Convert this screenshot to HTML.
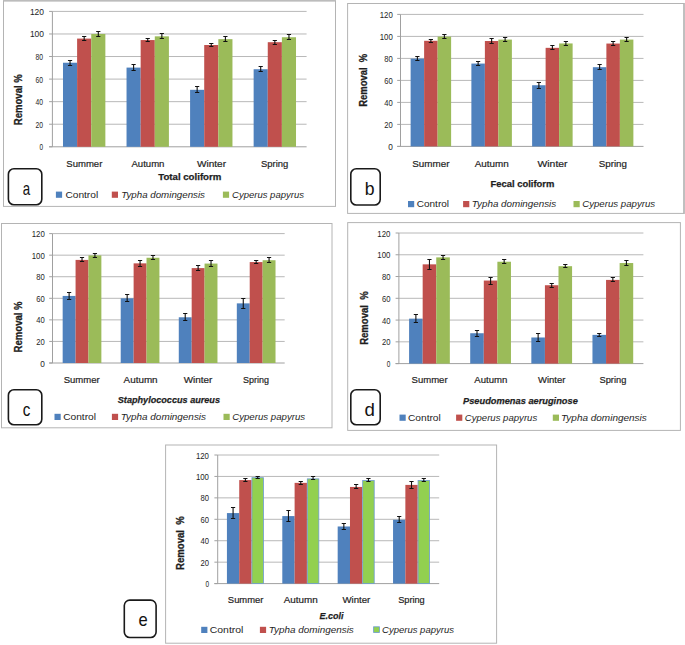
<!DOCTYPE html>
<html><head><meta charset="utf-8"><title>Removal charts</title><style>html,body{margin:0;padding:0;background:#fff;}svg{display:block;font-family:"Liberation Sans",sans-serif;}</style></head><body>
<svg width="685" height="645" viewBox="0 0 685 645">
<rect x="0" y="0" width="685" height="645" fill="#fff"/>
<rect x="3" y="0" width="333" height="1.6" fill="#cfcfcf"/>
<rect x="683" y="3" width="2" height="210.9" fill="#cbcbcb"/>
<rect x="3.5" y="0.8" width="332" height="205.6" fill="none" stroke="#b4b4b4" stroke-width="1"/>
<line x1="52.4" y1="124.23" x2="306.6" y2="124.23" stroke="#b8b8b8" stroke-width="1"/>
<line x1="52.4" y1="101.67" x2="306.6" y2="101.67" stroke="#b8b8b8" stroke-width="1"/>
<line x1="52.4" y1="79.1" x2="306.6" y2="79.1" stroke="#b8b8b8" stroke-width="1"/>
<line x1="52.4" y1="56.53" x2="306.6" y2="56.53" stroke="#b8b8b8" stroke-width="1"/>
<line x1="52.4" y1="33.97" x2="306.6" y2="33.97" stroke="#b8b8b8" stroke-width="1"/>
<line x1="52.4" y1="11.4" x2="306.6" y2="11.4" stroke="#b8b8b8" stroke-width="1"/>
<line x1="49.1" y1="146.8" x2="52.4" y2="146.8" stroke="#a0a0a0" stroke-width="1"/>
<line x1="49.1" y1="124.23" x2="52.4" y2="124.23" stroke="#a0a0a0" stroke-width="1"/>
<line x1="49.1" y1="101.67" x2="52.4" y2="101.67" stroke="#a0a0a0" stroke-width="1"/>
<line x1="49.1" y1="79.1" x2="52.4" y2="79.1" stroke="#a0a0a0" stroke-width="1"/>
<line x1="49.1" y1="56.53" x2="52.4" y2="56.53" stroke="#a0a0a0" stroke-width="1"/>
<line x1="49.1" y1="33.97" x2="52.4" y2="33.97" stroke="#a0a0a0" stroke-width="1"/>
<line x1="49.1" y1="11.4" x2="52.4" y2="11.4" stroke="#a0a0a0" stroke-width="1"/>
<line x1="52.4" y1="11.4" x2="52.4" y2="146.8" stroke="#a0a0a0" stroke-width="1"/>
<line x1="49.1" y1="146.8" x2="306.6" y2="146.8" stroke="#a0a0a0" stroke-width="1"/>
<rect x="62.99" y="62.74" width="14.12" height="84.06" fill="#4F81BD"/>
<rect x="77.11" y="38.59" width="14.12" height="108.21" fill="#C0504D"/>
<rect x="91.24" y="33.97" width="14.12" height="112.83" fill="#9BBB59"/>
<path d="M70.05 60.5V65.5" stroke="#111" stroke-width="1.1" fill="none"/>
<path d="M67.95 60.5H72.15M67.95 65.5H72.15" stroke="#111" stroke-width="1" fill="none"/>
<path d="M84.18 36.5V40.5" stroke="#111" stroke-width="1.1" fill="none"/>
<path d="M82.08 36.5H86.28M82.08 40.5H86.28" stroke="#111" stroke-width="1" fill="none"/>
<path d="M98.3 31.5V36.5" stroke="#111" stroke-width="1.1" fill="none"/>
<path d="M96.2 31.5H100.4M96.2 36.5H100.4" stroke="#111" stroke-width="1" fill="none"/>
<rect x="126.54" y="67.59" width="14.12" height="79.21" fill="#4F81BD"/>
<rect x="140.66" y="40.06" width="14.12" height="106.74" fill="#C0504D"/>
<rect x="154.79" y="36.34" width="14.12" height="110.46" fill="#9BBB59"/>
<path d="M133.6 64.5V70.5" stroke="#111" stroke-width="1.1" fill="none"/>
<path d="M131.5 64.5H135.7M131.5 70.5H135.7" stroke="#111" stroke-width="1" fill="none"/>
<path d="M147.72 38.5V41.5" stroke="#111" stroke-width="1.1" fill="none"/>
<path d="M145.62 38.5H149.82M145.62 41.5H149.82" stroke="#111" stroke-width="1" fill="none"/>
<path d="M161.85 33.5V38.5" stroke="#111" stroke-width="1.1" fill="none"/>
<path d="M159.75 33.5H163.95M159.75 38.5H163.95" stroke="#111" stroke-width="1" fill="none"/>
<rect x="190.09" y="89.82" width="14.12" height="56.98" fill="#4F81BD"/>
<rect x="204.21" y="45.02" width="14.12" height="101.78" fill="#C0504D"/>
<rect x="218.34" y="39.16" width="14.12" height="107.64" fill="#9BBB59"/>
<path d="M197.15 86.5V92.5" stroke="#111" stroke-width="1.1" fill="none"/>
<path d="M195.05 86.5H199.25M195.05 92.5H199.25" stroke="#111" stroke-width="1" fill="none"/>
<path d="M211.28 43.5V46.5" stroke="#111" stroke-width="1.1" fill="none"/>
<path d="M209.18 43.5H213.38M209.18 46.5H213.38" stroke="#111" stroke-width="1" fill="none"/>
<path d="M225.4 36.5V41.5" stroke="#111" stroke-width="1.1" fill="none"/>
<path d="M223.3 36.5H227.5M223.3 41.5H227.5" stroke="#111" stroke-width="1" fill="none"/>
<rect x="253.64" y="69.23" width="14.12" height="77.57" fill="#4F81BD"/>
<rect x="267.76" y="42.2" width="14.12" height="104.6" fill="#C0504D"/>
<rect x="281.89" y="37.24" width="14.12" height="109.56" fill="#9BBB59"/>
<path d="M260.7 66.5V71.5" stroke="#111" stroke-width="1.1" fill="none"/>
<path d="M258.6 66.5H262.8M258.6 71.5H262.8" stroke="#111" stroke-width="1" fill="none"/>
<path d="M274.83 40.5V44.5" stroke="#111" stroke-width="1.1" fill="none"/>
<path d="M272.73 40.5H276.93M272.73 44.5H276.93" stroke="#111" stroke-width="1" fill="none"/>
<path d="M288.95 34.5V39.5" stroke="#111" stroke-width="1.1" fill="none"/>
<path d="M286.85 34.5H291.05M286.85 39.5H291.05" stroke="#111" stroke-width="1" fill="none"/>
<rect x="55.9" y="191.6" width="6.2" height="6.2" fill="#4F81BD"/>
<rect x="111.8" y="191.6" width="6.2" height="6.2" fill="#C0504D"/>
<rect x="222.9" y="191.6" width="6.2" height="6.2" fill="#9BBB59"/>
<rect x="8.4" y="168.7" width="33.4" height="36.1" rx="5.5" ry="5.5" fill="#fff" stroke="#1a1a1a" stroke-width="1.6"/>
<rect x="347.6" y="3.5" width="336.4" height="209.9" fill="none" stroke="#b4b4b4" stroke-width="1"/>
<line x1="400.5" y1="124.4" x2="643.5" y2="124.4" stroke="#b8b8b8" stroke-width="1"/>
<line x1="400.5" y1="102.4" x2="643.5" y2="102.4" stroke="#b8b8b8" stroke-width="1"/>
<line x1="400.5" y1="80.4" x2="643.5" y2="80.4" stroke="#b8b8b8" stroke-width="1"/>
<line x1="400.5" y1="58.4" x2="643.5" y2="58.4" stroke="#b8b8b8" stroke-width="1"/>
<line x1="400.5" y1="36.4" x2="643.5" y2="36.4" stroke="#b8b8b8" stroke-width="1"/>
<line x1="400.5" y1="14.4" x2="643.5" y2="14.4" stroke="#b8b8b8" stroke-width="1"/>
<line x1="397.2" y1="146.4" x2="400.5" y2="146.4" stroke="#a0a0a0" stroke-width="1"/>
<line x1="397.2" y1="124.4" x2="400.5" y2="124.4" stroke="#a0a0a0" stroke-width="1"/>
<line x1="397.2" y1="102.4" x2="400.5" y2="102.4" stroke="#a0a0a0" stroke-width="1"/>
<line x1="397.2" y1="80.4" x2="400.5" y2="80.4" stroke="#a0a0a0" stroke-width="1"/>
<line x1="397.2" y1="58.4" x2="400.5" y2="58.4" stroke="#a0a0a0" stroke-width="1"/>
<line x1="397.2" y1="36.4" x2="400.5" y2="36.4" stroke="#a0a0a0" stroke-width="1"/>
<line x1="397.2" y1="14.4" x2="400.5" y2="14.4" stroke="#a0a0a0" stroke-width="1"/>
<line x1="400.5" y1="14.4" x2="400.5" y2="146.4" stroke="#a0a0a0" stroke-width="1"/>
<line x1="397.2" y1="146.4" x2="643.5" y2="146.4" stroke="#a0a0a0" stroke-width="1"/>
<rect x="410.62" y="58.62" width="13.5" height="87.78" fill="#4F81BD"/>
<rect x="424.12" y="40.8" width="13.5" height="105.6" fill="#C0504D"/>
<rect x="437.62" y="36.62" width="13.5" height="109.78" fill="#9BBB59"/>
<path d="M417.38 56.5V60.5" stroke="#111" stroke-width="1.1" fill="none"/>
<path d="M415.27 56.5H419.48M415.27 60.5H419.48" stroke="#111" stroke-width="1" fill="none"/>
<path d="M430.88 39.5V42.5" stroke="#111" stroke-width="1.1" fill="none"/>
<path d="M428.77 39.5H432.98M428.77 42.5H432.98" stroke="#111" stroke-width="1" fill="none"/>
<path d="M444.38 34.5V38.5" stroke="#111" stroke-width="1.1" fill="none"/>
<path d="M442.27 34.5H446.48M442.27 38.5H446.48" stroke="#111" stroke-width="1" fill="none"/>
<rect x="471.38" y="63.57" width="13.5" height="82.83" fill="#4F81BD"/>
<rect x="484.88" y="41.02" width="13.5" height="105.38" fill="#C0504D"/>
<rect x="498.38" y="39.59" width="13.5" height="106.81" fill="#9BBB59"/>
<path d="M478.12 61.5V65.5" stroke="#111" stroke-width="1.1" fill="none"/>
<path d="M476.02 61.5H480.23M476.02 65.5H480.23" stroke="#111" stroke-width="1" fill="none"/>
<path d="M491.62 38.5V43.5" stroke="#111" stroke-width="1.1" fill="none"/>
<path d="M489.52 38.5H493.73M489.52 43.5H493.73" stroke="#111" stroke-width="1" fill="none"/>
<path d="M505.12 37.5V41.5" stroke="#111" stroke-width="1.1" fill="none"/>
<path d="M503.02 37.5H507.23M503.02 41.5H507.23" stroke="#111" stroke-width="1" fill="none"/>
<rect x="532.12" y="85.24" width="13.5" height="61.16" fill="#4F81BD"/>
<rect x="545.62" y="47.84" width="13.5" height="98.56" fill="#C0504D"/>
<rect x="559.12" y="43.44" width="13.5" height="102.96" fill="#9BBB59"/>
<path d="M538.88 82.5V88.5" stroke="#111" stroke-width="1.1" fill="none"/>
<path d="M536.77 82.5H540.98M536.77 88.5H540.98" stroke="#111" stroke-width="1" fill="none"/>
<path d="M552.38 45.5V49.5" stroke="#111" stroke-width="1.1" fill="none"/>
<path d="M550.27 45.5H554.48M550.27 49.5H554.48" stroke="#111" stroke-width="1" fill="none"/>
<path d="M565.88 41.5V45.5" stroke="#111" stroke-width="1.1" fill="none"/>
<path d="M563.77 41.5H567.98M563.77 45.5H567.98" stroke="#111" stroke-width="1" fill="none"/>
<rect x="592.88" y="67.2" width="13.5" height="79.2" fill="#4F81BD"/>
<rect x="606.38" y="43.55" width="13.5" height="102.85" fill="#C0504D"/>
<rect x="619.88" y="39.59" width="13.5" height="106.81" fill="#9BBB59"/>
<path d="M599.62 64.5V69.5" stroke="#111" stroke-width="1.1" fill="none"/>
<path d="M597.52 64.5H601.73M597.52 69.5H601.73" stroke="#111" stroke-width="1" fill="none"/>
<path d="M613.12 41.5V45.5" stroke="#111" stroke-width="1.1" fill="none"/>
<path d="M611.02 41.5H615.23M611.02 45.5H615.23" stroke="#111" stroke-width="1" fill="none"/>
<path d="M626.62 37.5V41.5" stroke="#111" stroke-width="1.1" fill="none"/>
<path d="M624.52 37.5H628.73M624.52 41.5H628.73" stroke="#111" stroke-width="1" fill="none"/>
<rect x="408" y="201" width="6.2" height="6.2" fill="#4F81BD"/>
<rect x="463.1" y="201" width="6.2" height="6.2" fill="#C0504D"/>
<rect x="573.5" y="201" width="6.2" height="6.2" fill="#9BBB59"/>
<rect x="350.8" y="168.8" width="29.4" height="36.2" rx="5.5" ry="5.5" fill="#fff" stroke="#1a1a1a" stroke-width="1.6"/>
<rect x="1.5" y="223.5" width="330.5" height="204.3" fill="none" stroke="#b4b4b4" stroke-width="1"/>
<line x1="52.5" y1="341.43" x2="284.7" y2="341.43" stroke="#b8b8b8" stroke-width="1"/>
<line x1="52.5" y1="319.87" x2="284.7" y2="319.87" stroke="#b8b8b8" stroke-width="1"/>
<line x1="52.5" y1="298.3" x2="284.7" y2="298.3" stroke="#b8b8b8" stroke-width="1"/>
<line x1="52.5" y1="276.73" x2="284.7" y2="276.73" stroke="#b8b8b8" stroke-width="1"/>
<line x1="52.5" y1="255.17" x2="284.7" y2="255.17" stroke="#b8b8b8" stroke-width="1"/>
<line x1="52.5" y1="233.6" x2="284.7" y2="233.6" stroke="#b8b8b8" stroke-width="1"/>
<line x1="49.2" y1="363" x2="52.5" y2="363" stroke="#a0a0a0" stroke-width="1"/>
<line x1="49.2" y1="341.43" x2="52.5" y2="341.43" stroke="#a0a0a0" stroke-width="1"/>
<line x1="49.2" y1="319.87" x2="52.5" y2="319.87" stroke="#a0a0a0" stroke-width="1"/>
<line x1="49.2" y1="298.3" x2="52.5" y2="298.3" stroke="#a0a0a0" stroke-width="1"/>
<line x1="49.2" y1="276.73" x2="52.5" y2="276.73" stroke="#a0a0a0" stroke-width="1"/>
<line x1="49.2" y1="255.17" x2="52.5" y2="255.17" stroke="#a0a0a0" stroke-width="1"/>
<line x1="49.2" y1="233.6" x2="52.5" y2="233.6" stroke="#a0a0a0" stroke-width="1"/>
<line x1="52.5" y1="233.6" x2="52.5" y2="363" stroke="#a0a0a0" stroke-width="1"/>
<line x1="49.2" y1="363" x2="284.7" y2="363" stroke="#a0a0a0" stroke-width="1"/>
<rect x="62.67" y="295.93" width="12.9" height="67.07" fill="#4F81BD"/>
<rect x="75.57" y="259.91" width="12.9" height="103.09" fill="#C0504D"/>
<rect x="88.47" y="255.38" width="12.9" height="107.62" fill="#9BBB59"/>
<path d="M69.12 292.5V299.5" stroke="#111" stroke-width="1.1" fill="none"/>
<path d="M67.03 292.5H71.22M67.03 299.5H71.22" stroke="#111" stroke-width="1" fill="none"/>
<path d="M82.02 257.5V261.5" stroke="#111" stroke-width="1.1" fill="none"/>
<path d="M79.92 257.5H84.12M79.92 261.5H84.12" stroke="#111" stroke-width="1" fill="none"/>
<path d="M94.92 253.5V257.5" stroke="#111" stroke-width="1.1" fill="none"/>
<path d="M92.83 253.5H97.02M92.83 257.5H97.02" stroke="#111" stroke-width="1" fill="none"/>
<rect x="120.72" y="298.3" width="12.9" height="64.7" fill="#4F81BD"/>
<rect x="133.62" y="263.36" width="12.9" height="99.64" fill="#C0504D"/>
<rect x="146.52" y="257.75" width="12.9" height="105.25" fill="#9BBB59"/>
<path d="M127.17 294.5V301.5" stroke="#111" stroke-width="1.1" fill="none"/>
<path d="M125.08 294.5H129.28M125.08 301.5H129.28" stroke="#111" stroke-width="1" fill="none"/>
<path d="M140.07 260.5V266.5" stroke="#111" stroke-width="1.1" fill="none"/>
<path d="M137.97 260.5H142.17M137.97 266.5H142.17" stroke="#111" stroke-width="1" fill="none"/>
<path d="M152.97 255.5V259.5" stroke="#111" stroke-width="1.1" fill="none"/>
<path d="M150.87 255.5H155.07M150.87 259.5H155.07" stroke="#111" stroke-width="1" fill="none"/>
<rect x="178.78" y="317.28" width="12.9" height="45.72" fill="#4F81BD"/>
<rect x="191.68" y="268.11" width="12.9" height="94.89" fill="#C0504D"/>
<rect x="204.57" y="263.58" width="12.9" height="99.42" fill="#9BBB59"/>
<path d="M185.22 313.5V320.5" stroke="#111" stroke-width="1.1" fill="none"/>
<path d="M183.12 313.5H187.32M183.12 320.5H187.32" stroke="#111" stroke-width="1" fill="none"/>
<path d="M198.12 265.5V270.5" stroke="#111" stroke-width="1.1" fill="none"/>
<path d="M196.03 265.5H200.22M196.03 270.5H200.22" stroke="#111" stroke-width="1" fill="none"/>
<path d="M211.02 260.5V266.5" stroke="#111" stroke-width="1.1" fill="none"/>
<path d="M208.92 260.5H213.12M208.92 266.5H213.12" stroke="#111" stroke-width="1" fill="none"/>
<rect x="236.82" y="303.37" width="12.9" height="59.63" fill="#4F81BD"/>
<rect x="249.72" y="262.07" width="12.9" height="100.93" fill="#C0504D"/>
<rect x="262.62" y="260.23" width="12.9" height="102.77" fill="#9BBB59"/>
<path d="M243.27 298.5V308.5" stroke="#111" stroke-width="1.1" fill="none"/>
<path d="M241.17 298.5H245.37M241.17 308.5H245.37" stroke="#111" stroke-width="1" fill="none"/>
<path d="M256.18 260.5V263.5" stroke="#111" stroke-width="1.1" fill="none"/>
<path d="M254.08 260.5H258.28M254.08 263.5H258.28" stroke="#111" stroke-width="1" fill="none"/>
<path d="M269.07 257.5V262.5" stroke="#111" stroke-width="1.1" fill="none"/>
<path d="M266.97 257.5H271.18M266.97 262.5H271.18" stroke="#111" stroke-width="1" fill="none"/>
<rect x="54.5" y="413.8" width="6.2" height="6.2" fill="#4F81BD"/>
<rect x="111.9" y="413.8" width="6.2" height="6.2" fill="#C0504D"/>
<rect x="223.5" y="413.8" width="6.2" height="6.2" fill="#9BBB59"/>
<rect x="8.4" y="389.8" width="33.4" height="35" rx="5.5" ry="5.5" fill="#fff" stroke="#1a1a1a" stroke-width="1.6"/>
<rect x="347.7" y="222.6" width="332.7" height="207.8" fill="none" stroke="#b4b4b4" stroke-width="1"/>
<line x1="398.9" y1="341.83" x2="643.4" y2="341.83" stroke="#b8b8b8" stroke-width="1"/>
<line x1="398.9" y1="320.07" x2="643.4" y2="320.07" stroke="#b8b8b8" stroke-width="1"/>
<line x1="398.9" y1="298.3" x2="643.4" y2="298.3" stroke="#b8b8b8" stroke-width="1"/>
<line x1="398.9" y1="276.53" x2="643.4" y2="276.53" stroke="#b8b8b8" stroke-width="1"/>
<line x1="398.9" y1="254.77" x2="643.4" y2="254.77" stroke="#b8b8b8" stroke-width="1"/>
<line x1="398.9" y1="233" x2="643.4" y2="233" stroke="#b8b8b8" stroke-width="1"/>
<line x1="395.6" y1="363.6" x2="398.9" y2="363.6" stroke="#a0a0a0" stroke-width="1"/>
<line x1="395.6" y1="341.83" x2="398.9" y2="341.83" stroke="#a0a0a0" stroke-width="1"/>
<line x1="395.6" y1="320.07" x2="398.9" y2="320.07" stroke="#a0a0a0" stroke-width="1"/>
<line x1="395.6" y1="298.3" x2="398.9" y2="298.3" stroke="#a0a0a0" stroke-width="1"/>
<line x1="395.6" y1="276.53" x2="398.9" y2="276.53" stroke="#a0a0a0" stroke-width="1"/>
<line x1="395.6" y1="254.77" x2="398.9" y2="254.77" stroke="#a0a0a0" stroke-width="1"/>
<line x1="395.6" y1="233" x2="398.9" y2="233" stroke="#a0a0a0" stroke-width="1"/>
<line x1="398.9" y1="233" x2="398.9" y2="363.6" stroke="#a0a0a0" stroke-width="1"/>
<line x1="395.6" y1="363.6" x2="643.4" y2="363.6" stroke="#a0a0a0" stroke-width="1"/>
<rect x="409.09" y="318.65" width="13.58" height="44.95" fill="#4F81BD"/>
<rect x="422.67" y="264.34" width="13.58" height="99.26" fill="#C0504D"/>
<rect x="436.25" y="257.38" width="13.58" height="106.22" fill="#9BBB59"/>
<path d="M415.88 314.5V322.5" stroke="#111" stroke-width="1.1" fill="none"/>
<path d="M413.78 314.5H417.98M413.78 322.5H417.98" stroke="#111" stroke-width="1" fill="none"/>
<path d="M429.46 259.5V269.5" stroke="#111" stroke-width="1.1" fill="none"/>
<path d="M427.36 259.5H431.56M427.36 269.5H431.56" stroke="#111" stroke-width="1" fill="none"/>
<path d="M443.05 255.5V259.5" stroke="#111" stroke-width="1.1" fill="none"/>
<path d="M440.95 255.5H445.15M440.95 259.5H445.15" stroke="#111" stroke-width="1" fill="none"/>
<rect x="470.21" y="333.24" width="13.58" height="30.36" fill="#4F81BD"/>
<rect x="483.8" y="280.56" width="13.58" height="83.04" fill="#C0504D"/>
<rect x="497.38" y="261.73" width="13.58" height="101.87" fill="#9BBB59"/>
<path d="M477 330.5V336.5" stroke="#111" stroke-width="1.1" fill="none"/>
<path d="M474.9 330.5H479.1M474.9 336.5H479.1" stroke="#111" stroke-width="1" fill="none"/>
<path d="M490.59 277.5V284.5" stroke="#111" stroke-width="1.1" fill="none"/>
<path d="M488.49 277.5H492.69M488.49 284.5H492.69" stroke="#111" stroke-width="1" fill="none"/>
<path d="M504.17 259.5V263.5" stroke="#111" stroke-width="1.1" fill="none"/>
<path d="M502.07 259.5H506.27M502.07 263.5H506.27" stroke="#111" stroke-width="1" fill="none"/>
<rect x="531.34" y="337.48" width="13.58" height="26.12" fill="#4F81BD"/>
<rect x="544.92" y="285.24" width="13.58" height="78.36" fill="#C0504D"/>
<rect x="558.5" y="266.19" width="13.58" height="97.41" fill="#9BBB59"/>
<path d="M538.13 333.5V341.5" stroke="#111" stroke-width="1.1" fill="none"/>
<path d="M536.03 333.5H540.23M536.03 341.5H540.23" stroke="#111" stroke-width="1" fill="none"/>
<path d="M551.71 283.5V287.5" stroke="#111" stroke-width="1.1" fill="none"/>
<path d="M549.61 283.5H553.81M549.61 287.5H553.81" stroke="#111" stroke-width="1" fill="none"/>
<path d="M565.3 264.5V267.5" stroke="#111" stroke-width="1.1" fill="none"/>
<path d="M563.2 264.5H567.4M563.2 267.5H567.4" stroke="#111" stroke-width="1" fill="none"/>
<rect x="592.46" y="334.87" width="13.58" height="28.73" fill="#4F81BD"/>
<rect x="606.05" y="279.91" width="13.58" height="83.69" fill="#C0504D"/>
<rect x="619.63" y="263.04" width="13.58" height="100.56" fill="#9BBB59"/>
<path d="M599.25 333.5V336.5" stroke="#111" stroke-width="1.1" fill="none"/>
<path d="M597.15 333.5H601.35M597.15 336.5H601.35" stroke="#111" stroke-width="1" fill="none"/>
<path d="M612.84 277.5V281.5" stroke="#111" stroke-width="1.1" fill="none"/>
<path d="M610.74 277.5H614.94M610.74 281.5H614.94" stroke="#111" stroke-width="1" fill="none"/>
<path d="M626.42 260.5V265.5" stroke="#111" stroke-width="1.1" fill="none"/>
<path d="M624.32 260.5H628.52M624.32 265.5H628.52" stroke="#111" stroke-width="1" fill="none"/>
<rect x="399.5" y="414.6" width="6.2" height="6.2" fill="#4F81BD"/>
<rect x="456.1" y="414.6" width="6.2" height="6.2" fill="#C0504D"/>
<rect x="552.8" y="414.6" width="6.2" height="6.2" fill="#9BBB59"/>
<rect x="350.8" y="389.8" width="29.4" height="35" rx="5.5" ry="5.5" fill="#fff" stroke="#1a1a1a" stroke-width="1.6"/>
<rect x="165.6" y="445" width="331" height="198.2" fill="none" stroke="#b4b4b4" stroke-width="1"/>
<line x1="217.7" y1="562.17" x2="439.2" y2="562.17" stroke="#b8b8b8" stroke-width="1"/>
<line x1="217.7" y1="540.73" x2="439.2" y2="540.73" stroke="#b8b8b8" stroke-width="1"/>
<line x1="217.7" y1="519.3" x2="439.2" y2="519.3" stroke="#b8b8b8" stroke-width="1"/>
<line x1="217.7" y1="497.87" x2="439.2" y2="497.87" stroke="#b8b8b8" stroke-width="1"/>
<line x1="217.7" y1="476.43" x2="439.2" y2="476.43" stroke="#b8b8b8" stroke-width="1"/>
<line x1="217.7" y1="455" x2="439.2" y2="455" stroke="#b8b8b8" stroke-width="1"/>
<line x1="214.4" y1="583.6" x2="217.7" y2="583.6" stroke="#a0a0a0" stroke-width="1"/>
<line x1="214.4" y1="562.17" x2="217.7" y2="562.17" stroke="#a0a0a0" stroke-width="1"/>
<line x1="214.4" y1="540.73" x2="217.7" y2="540.73" stroke="#a0a0a0" stroke-width="1"/>
<line x1="214.4" y1="519.3" x2="217.7" y2="519.3" stroke="#a0a0a0" stroke-width="1"/>
<line x1="214.4" y1="497.87" x2="217.7" y2="497.87" stroke="#a0a0a0" stroke-width="1"/>
<line x1="214.4" y1="476.43" x2="217.7" y2="476.43" stroke="#a0a0a0" stroke-width="1"/>
<line x1="214.4" y1="455" x2="217.7" y2="455" stroke="#a0a0a0" stroke-width="1"/>
<line x1="217.7" y1="455" x2="217.7" y2="583.6" stroke="#a0a0a0" stroke-width="1"/>
<line x1="214.4" y1="583.6" x2="439.2" y2="583.6" stroke="#a0a0a0" stroke-width="1"/>
<rect x="226.93" y="513.08" width="12.31" height="70.52" fill="#4F81BD"/>
<rect x="239.23" y="480.08" width="12.31" height="103.52" fill="#C0504D"/>
<rect x="251.94" y="477.69" width="11.51" height="105.91" fill="#92D050" stroke="#6d9bd1" stroke-width="0.8"/>
<path d="M233.08 507.5V518.5" stroke="#111" stroke-width="1.1" fill="none"/>
<path d="M230.98 507.5H235.18M230.98 518.5H235.18" stroke="#111" stroke-width="1" fill="none"/>
<path d="M245.39 478.5V481.5" stroke="#111" stroke-width="1.1" fill="none"/>
<path d="M243.29 478.5H247.49M243.29 481.5H247.49" stroke="#111" stroke-width="1" fill="none"/>
<path d="M257.69 476.5V478.5" stroke="#111" stroke-width="1.1" fill="none"/>
<path d="M255.59 476.5H259.79M255.59 478.5H259.79" stroke="#111" stroke-width="1" fill="none"/>
<rect x="282.3" y="516.09" width="12.31" height="67.51" fill="#4F81BD"/>
<rect x="294.61" y="482.86" width="12.31" height="100.74" fill="#C0504D"/>
<rect x="307.32" y="478.87" width="11.51" height="104.73" fill="#92D050" stroke="#6d9bd1" stroke-width="0.8"/>
<path d="M288.46 510.5V521.5" stroke="#111" stroke-width="1.1" fill="none"/>
<path d="M286.36 510.5H290.56M286.36 521.5H290.56" stroke="#111" stroke-width="1" fill="none"/>
<path d="M300.76 481.5V484.5" stroke="#111" stroke-width="1.1" fill="none"/>
<path d="M298.66 481.5H302.86M298.66 484.5H302.86" stroke="#111" stroke-width="1" fill="none"/>
<path d="M313.07 476.5V479.5" stroke="#111" stroke-width="1.1" fill="none"/>
<path d="M310.97 476.5H315.17M310.97 479.5H315.17" stroke="#111" stroke-width="1" fill="none"/>
<rect x="337.68" y="526.48" width="12.31" height="57.12" fill="#4F81BD"/>
<rect x="349.98" y="486.94" width="12.31" height="96.66" fill="#C0504D"/>
<rect x="362.69" y="480.48" width="11.51" height="103.12" fill="#92D050" stroke="#6d9bd1" stroke-width="0.8"/>
<path d="M343.83 523.5V529.5" stroke="#111" stroke-width="1.1" fill="none"/>
<path d="M341.73 523.5H345.93M341.73 529.5H345.93" stroke="#111" stroke-width="1" fill="none"/>
<path d="M356.14 484.5V488.5" stroke="#111" stroke-width="1.1" fill="none"/>
<path d="M354.04 484.5H358.24M354.04 488.5H358.24" stroke="#111" stroke-width="1" fill="none"/>
<path d="M368.44 478.5V481.5" stroke="#111" stroke-width="1.1" fill="none"/>
<path d="M366.34 478.5H370.54M366.34 481.5H370.54" stroke="#111" stroke-width="1" fill="none"/>
<rect x="393.05" y="519.73" width="12.31" height="63.87" fill="#4F81BD"/>
<rect x="405.36" y="484.9" width="12.31" height="98.7" fill="#C0504D"/>
<rect x="418.07" y="480.48" width="11.51" height="103.12" fill="#92D050" stroke="#6d9bd1" stroke-width="0.8"/>
<path d="M399.21 516.5V522.5" stroke="#111" stroke-width="1.1" fill="none"/>
<path d="M397.11 516.5H401.31M397.11 522.5H401.31" stroke="#111" stroke-width="1" fill="none"/>
<path d="M411.51 481.5V488.5" stroke="#111" stroke-width="1.1" fill="none"/>
<path d="M409.41 481.5H413.61M409.41 488.5H413.61" stroke="#111" stroke-width="1" fill="none"/>
<path d="M423.82 478.5V481.5" stroke="#111" stroke-width="1.1" fill="none"/>
<path d="M421.72 478.5H425.92M421.72 481.5H425.92" stroke="#111" stroke-width="1" fill="none"/>
<rect x="201.2" y="626.8" width="6.2" height="6.2" fill="#4F81BD"/>
<rect x="259.9" y="626.8" width="6.2" height="6.2" fill="#C0504D"/>
<rect x="373.6" y="626.8" width="5.8" height="5.8" fill="#92D050" stroke="#6d9bd1" stroke-width="0.8"/>
<rect x="124.3" y="600.1" width="31.8" height="37.4" rx="5.5" ry="5.5" fill="#fff" stroke="#1a1a1a" stroke-width="1.6"/>
<text id="t0" x="39.4" y="150.3" font-size="8.2" textLength="3.6" lengthAdjust="spacingAndGlyphs" fill="#1e1e1e">0</text>
<text id="t1" x="35.5" y="127.73" font-size="8.2" textLength="7.5" lengthAdjust="spacingAndGlyphs" fill="#1e1e1e">20</text>
<text id="t2" x="35.5" y="105.17" font-size="8.2" textLength="7.5" lengthAdjust="spacingAndGlyphs" fill="#1e1e1e">40</text>
<text id="t3" x="35.5" y="82.6" font-size="8.2" textLength="7.5" lengthAdjust="spacingAndGlyphs" fill="#1e1e1e">60</text>
<text id="t4" x="35.5" y="60.03" font-size="8.2" textLength="7.5" lengthAdjust="spacingAndGlyphs" fill="#1e1e1e">80</text>
<text id="t5" x="29.9" y="37.47" font-size="8.2" textLength="14.1" lengthAdjust="spacingAndGlyphs" fill="#1e1e1e">100</text>
<text id="t6" x="29.9" y="14.9" font-size="8.2" textLength="14.1" lengthAdjust="spacingAndGlyphs" fill="#1e1e1e">120</text>
<text id="t7" x="66.35" y="166.8" font-size="9.5" stroke="#1e1e1e" stroke-width="0.2" textLength="36" lengthAdjust="spacingAndGlyphs" fill="#1e1e1e">Summer</text>
<text id="t8" x="131.45" y="166.8" font-size="9.5" stroke="#1e1e1e" stroke-width="0.2" textLength="33" lengthAdjust="spacingAndGlyphs" fill="#1e1e1e">Autumn</text>
<text id="t9" x="197.05" y="166.8" font-size="9.5" stroke="#1e1e1e" stroke-width="0.2" textLength="29" lengthAdjust="spacingAndGlyphs" fill="#1e1e1e">Winter</text>
<text id="t10" x="261.05" y="166.8" font-size="9.5" stroke="#1e1e1e" stroke-width="0.2" textLength="27.2" lengthAdjust="spacingAndGlyphs" fill="#1e1e1e">Spring</text>
<text id="t11" x="158.2" y="180.2" font-size="9.8" font-weight="bold" stroke="#1e1e1e" stroke-width="0.25" textLength="63.2" lengthAdjust="spacingAndGlyphs" fill="#1e1e1e">Total coliform</text>
<text id="t12" transform="translate(22 125.2) rotate(-90)" x="0" y="0" font-size="11" font-weight="bold" textLength="51" lengthAdjust="spacingAndGlyphs" fill="#1e1e1e" stroke="#1e1e1e" stroke-width="0.3">Removal %</text>
<text id="t13" x="65.4" y="198" font-size="9.6" textLength="32.8" lengthAdjust="spacingAndGlyphs" fill="#1e1e1e">Control</text>
<text id="t14" x="121.2" y="198" font-size="9.6" font-style="italic" textLength="83.8" lengthAdjust="spacingAndGlyphs" fill="#1e1e1e">Typha domingensis</text>
<text id="t15" x="232" y="198" font-size="9.6" font-style="italic" textLength="72" lengthAdjust="spacingAndGlyphs" fill="#1e1e1e">Cyperus papyrus</text>
<text id="t16" x="22.8" y="194.9" font-size="18.2" textLength="7.4" lengthAdjust="spacingAndGlyphs" fill="#111">a</text>
<text id="t17" x="388.2" y="149.9" font-size="8.2" textLength="4.6" lengthAdjust="spacingAndGlyphs" fill="#1e1e1e">0</text>
<text id="t18" x="384.3" y="127.9" font-size="8.2" textLength="8.5" lengthAdjust="spacingAndGlyphs" fill="#1e1e1e">20</text>
<text id="t19" x="384.3" y="105.9" font-size="8.2" textLength="8.5" lengthAdjust="spacingAndGlyphs" fill="#1e1e1e">40</text>
<text id="t20" x="384.3" y="83.9" font-size="8.2" textLength="8.5" lengthAdjust="spacingAndGlyphs" fill="#1e1e1e">60</text>
<text id="t21" x="384.3" y="61.9" font-size="8.2" textLength="8.5" lengthAdjust="spacingAndGlyphs" fill="#1e1e1e">80</text>
<text id="t22" x="379.7" y="39.9" font-size="8.2" textLength="13.1" lengthAdjust="spacingAndGlyphs" fill="#1e1e1e">100</text>
<text id="t23" x="379.7" y="17.9" font-size="8.2" textLength="13.1" lengthAdjust="spacingAndGlyphs" fill="#1e1e1e">120</text>
<text id="t24" x="412.22" y="166.9" font-size="9.5" stroke="#1e1e1e" stroke-width="0.2" textLength="37.2" lengthAdjust="spacingAndGlyphs" fill="#1e1e1e">Summer</text>
<text id="t25" x="474.67" y="166.9" font-size="9.5" stroke="#1e1e1e" stroke-width="0.2" textLength="34" lengthAdjust="spacingAndGlyphs" fill="#1e1e1e">Autumn</text>
<text id="t26" x="537.53" y="166.9" font-size="9.5" stroke="#1e1e1e" stroke-width="0.2" textLength="30" lengthAdjust="spacingAndGlyphs" fill="#1e1e1e">Winter</text>
<text id="t27" x="598.78" y="166.9" font-size="9.5" stroke="#1e1e1e" stroke-width="0.2" textLength="28.2" lengthAdjust="spacingAndGlyphs" fill="#1e1e1e">Spring</text>
<text id="t28" x="490.6" y="187.2" font-size="9.8" font-weight="bold" stroke="#1e1e1e" stroke-width="0.25" textLength="63.8" lengthAdjust="spacingAndGlyphs" fill="#1e1e1e">Fecal coliform</text>
<text id="t29" transform="translate(367.2 106.8) rotate(-90)" x="0" y="0" font-size="11" font-weight="bold" textLength="53" lengthAdjust="spacingAndGlyphs" fill="#1e1e1e" stroke="#1e1e1e" stroke-width="0.3">Removal&#160;&#160;%</text>
<text id="t30" x="416.8" y="207.4" font-size="9.6" textLength="32.2" lengthAdjust="spacingAndGlyphs" fill="#1e1e1e">Control</text>
<text id="t31" x="471.8" y="207.4" font-size="9.6" font-style="italic" textLength="84.4" lengthAdjust="spacingAndGlyphs" fill="#1e1e1e">Typha domingensis</text>
<text id="t32" x="582.2" y="207.4" font-size="9.6" font-style="italic" textLength="73" lengthAdjust="spacingAndGlyphs" fill="#1e1e1e">Cyperus papyrus</text>
<text id="t33" x="364.8" y="195.2" font-size="18.2" textLength="9.8" lengthAdjust="spacingAndGlyphs" fill="#111">b</text>
<text id="t34" x="40.2" y="366.5" font-size="8.2" textLength="4.6" lengthAdjust="spacingAndGlyphs" fill="#1e1e1e">0</text>
<text id="t35" x="36.3" y="344.93" font-size="8.2" textLength="8.5" lengthAdjust="spacingAndGlyphs" fill="#1e1e1e">20</text>
<text id="t36" x="36.3" y="323.37" font-size="8.2" textLength="8.5" lengthAdjust="spacingAndGlyphs" fill="#1e1e1e">40</text>
<text id="t37" x="36.3" y="301.8" font-size="8.2" textLength="8.5" lengthAdjust="spacingAndGlyphs" fill="#1e1e1e">60</text>
<text id="t38" x="36.3" y="280.23" font-size="8.2" textLength="8.5" lengthAdjust="spacingAndGlyphs" fill="#1e1e1e">80</text>
<text id="t39" x="31.7" y="258.67" font-size="8.2" textLength="13.1" lengthAdjust="spacingAndGlyphs" fill="#1e1e1e">100</text>
<text id="t40" x="31.7" y="237.1" font-size="8.2" textLength="13.1" lengthAdjust="spacingAndGlyphs" fill="#1e1e1e">120</text>
<text id="t41" x="63.68" y="382.5" font-size="9.5" stroke="#1e1e1e" stroke-width="0.2" textLength="36" lengthAdjust="spacingAndGlyphs" fill="#1e1e1e">Summer</text>
<text id="t42" x="123.62" y="382.5" font-size="9.5" stroke="#1e1e1e" stroke-width="0.2" textLength="34" lengthAdjust="spacingAndGlyphs" fill="#1e1e1e">Autumn</text>
<text id="t43" x="183.77" y="382.5" font-size="9.5" stroke="#1e1e1e" stroke-width="0.2" textLength="28.6" lengthAdjust="spacingAndGlyphs" fill="#1e1e1e">Winter</text>
<text id="t44" x="243.12" y="382.5" font-size="9.5" stroke="#1e1e1e" stroke-width="0.2" textLength="25.8" lengthAdjust="spacingAndGlyphs" fill="#1e1e1e">Spring</text>
<text id="t45" x="117.8" y="402.6" font-size="9.8" font-weight="bold" font-style="italic" stroke="#1e1e1e" stroke-width="0.25" textLength="102.2" lengthAdjust="spacingAndGlyphs" fill="#1e1e1e">Staphylococcus aureus</text>
<text id="t46" transform="translate(22.2 352.4) rotate(-90)" x="0" y="0" font-size="11" font-weight="bold" textLength="51" lengthAdjust="spacingAndGlyphs" fill="#1e1e1e" stroke="#1e1e1e" stroke-width="0.3">Removal %</text>
<text id="t47" x="63.2" y="420.4" font-size="9.6" textLength="32.8" lengthAdjust="spacingAndGlyphs" fill="#1e1e1e">Control</text>
<text id="t48" x="120.8" y="420.4" font-size="9.6" font-style="italic" textLength="85.2" lengthAdjust="spacingAndGlyphs" fill="#1e1e1e">Typha domingensis</text>
<text id="t49" x="232.2" y="420.4" font-size="9.6" font-style="italic" textLength="73" lengthAdjust="spacingAndGlyphs" fill="#1e1e1e">Cyperus papyrus</text>
<text id="t50" x="22.8" y="416.3" font-size="18.2" textLength="7.6" lengthAdjust="spacingAndGlyphs" fill="#111">c</text>
<text id="t51" x="386.8" y="367.1" font-size="8.2" textLength="3.6" lengthAdjust="spacingAndGlyphs" fill="#1e1e1e">0</text>
<text id="t52" x="381.9" y="345.33" font-size="8.2" textLength="8.5" lengthAdjust="spacingAndGlyphs" fill="#1e1e1e">20</text>
<text id="t53" x="381.9" y="323.57" font-size="8.2" textLength="8.5" lengthAdjust="spacingAndGlyphs" fill="#1e1e1e">40</text>
<text id="t54" x="381.9" y="301.8" font-size="8.2" textLength="8.5" lengthAdjust="spacingAndGlyphs" fill="#1e1e1e">60</text>
<text id="t55" x="381.9" y="280.03" font-size="8.2" textLength="8.5" lengthAdjust="spacingAndGlyphs" fill="#1e1e1e">80</text>
<text id="t56" x="377.3" y="258.27" font-size="8.2" textLength="13.1" lengthAdjust="spacingAndGlyphs" fill="#1e1e1e">100</text>
<text id="t57" x="377.3" y="236.5" font-size="8.2" textLength="13.1" lengthAdjust="spacingAndGlyphs" fill="#1e1e1e">120</text>
<text id="t58" x="411.59" y="383" font-size="9.5" stroke="#1e1e1e" stroke-width="0.2" textLength="36" lengthAdjust="spacingAndGlyphs" fill="#1e1e1e">Summer</text>
<text id="t59" x="474.36" y="383" font-size="9.5" stroke="#1e1e1e" stroke-width="0.2" textLength="33" lengthAdjust="spacingAndGlyphs" fill="#1e1e1e">Autumn</text>
<text id="t60" x="537.94" y="383" font-size="9.5" stroke="#1e1e1e" stroke-width="0.2" textLength="27.4" lengthAdjust="spacingAndGlyphs" fill="#1e1e1e">Winter</text>
<text id="t61" x="599.51" y="383" font-size="9.5" stroke="#1e1e1e" stroke-width="0.2" textLength="26.8" lengthAdjust="spacingAndGlyphs" fill="#1e1e1e">Spring</text>
<text id="t62" x="463" y="403.7" font-size="9.8" font-weight="bold" font-style="italic" stroke="#1e1e1e" stroke-width="0.25" textLength="114.8" lengthAdjust="spacingAndGlyphs" fill="#1e1e1e">Pseudomenas aeruginose</text>
<text id="t63" transform="translate(368.4 344.8) rotate(-90)" x="0" y="0" font-size="11" font-weight="bold" textLength="53.4" lengthAdjust="spacingAndGlyphs" fill="#1e1e1e" stroke="#1e1e1e" stroke-width="0.3">Removal&#160;&#160;%</text>
<text id="t64" x="408" y="420.7" font-size="9.6" textLength="32.8" lengthAdjust="spacingAndGlyphs" fill="#1e1e1e">Control</text>
<text id="t65" x="464.8" y="420.7" font-size="9.6" font-style="italic" textLength="72.4" lengthAdjust="spacingAndGlyphs" fill="#1e1e1e">Cyperus papyrus</text>
<text id="t66" x="561" y="420.7" font-size="9.6" font-style="italic" textLength="85.8" lengthAdjust="spacingAndGlyphs" fill="#1e1e1e">Typha domingensis</text>
<text id="t67" x="364.6" y="416.2" font-size="18.2" textLength="10.4" lengthAdjust="spacingAndGlyphs" fill="#111">d</text>
<text id="t68" x="205.4" y="587.1" font-size="8.2" textLength="3.6" lengthAdjust="spacingAndGlyphs" fill="#1e1e1e">0</text>
<text id="t69" x="200.5" y="565.67" font-size="8.2" textLength="8.5" lengthAdjust="spacingAndGlyphs" fill="#1e1e1e">20</text>
<text id="t70" x="200.5" y="544.23" font-size="8.2" textLength="8.5" lengthAdjust="spacingAndGlyphs" fill="#1e1e1e">40</text>
<text id="t71" x="200.5" y="522.8" font-size="8.2" textLength="8.5" lengthAdjust="spacingAndGlyphs" fill="#1e1e1e">60</text>
<text id="t72" x="200.5" y="501.37" font-size="8.2" textLength="8.5" lengthAdjust="spacingAndGlyphs" fill="#1e1e1e">80</text>
<text id="t73" x="195.9" y="479.93" font-size="8.2" textLength="13.1" lengthAdjust="spacingAndGlyphs" fill="#1e1e1e">100</text>
<text id="t74" x="195.9" y="458.5" font-size="8.2" textLength="13.1" lengthAdjust="spacingAndGlyphs" fill="#1e1e1e">120</text>
<text id="t75" x="227.85" y="602.7" font-size="9.5" stroke="#1e1e1e" stroke-width="0.2" textLength="35.6" lengthAdjust="spacingAndGlyphs" fill="#1e1e1e">Summer</text>
<text id="t76" x="283.75" y="602.7" font-size="9.5" stroke="#1e1e1e" stroke-width="0.2" textLength="34" lengthAdjust="spacingAndGlyphs" fill="#1e1e1e">Autumn</text>
<text id="t77" x="342.45" y="602.7" font-size="9.5" stroke="#1e1e1e" stroke-width="0.2" textLength="27.8" lengthAdjust="spacingAndGlyphs" fill="#1e1e1e">Winter</text>
<text id="t78" x="398.15" y="602.7" font-size="9.5" stroke="#1e1e1e" stroke-width="0.2" textLength="26.6" lengthAdjust="spacingAndGlyphs" fill="#1e1e1e">Spring</text>
<text id="t79" x="319.6" y="619.4" font-size="9.8" font-weight="bold" font-style="italic" stroke="#1e1e1e" stroke-width="0.25" textLength="24" lengthAdjust="spacingAndGlyphs" fill="#1e1e1e">E.coli</text>
<text id="t80" transform="translate(184 570) rotate(-90)" x="0" y="0" font-size="11" font-weight="bold" textLength="53.8" lengthAdjust="spacingAndGlyphs" fill="#1e1e1e" stroke="#1e1e1e" stroke-width="0.3">Removal&#160;&#160;%</text>
<text id="t81" x="209.8" y="633.2" font-size="9.6" textLength="33.6" lengthAdjust="spacingAndGlyphs" fill="#1e1e1e">Control</text>
<text id="t82" x="268.8" y="633.2" font-size="9.6" font-style="italic" textLength="85" lengthAdjust="spacingAndGlyphs" fill="#1e1e1e">Typha domingensis</text>
<text id="t83" x="382" y="633.2" font-size="9.6" font-style="italic" textLength="72" lengthAdjust="spacingAndGlyphs" fill="#1e1e1e">Cyperus papyrus</text>
<text id="t84" x="138.6" y="626.2" font-size="18.2" textLength="9.2" lengthAdjust="spacingAndGlyphs" fill="#111">e</text>
</svg></body></html>
